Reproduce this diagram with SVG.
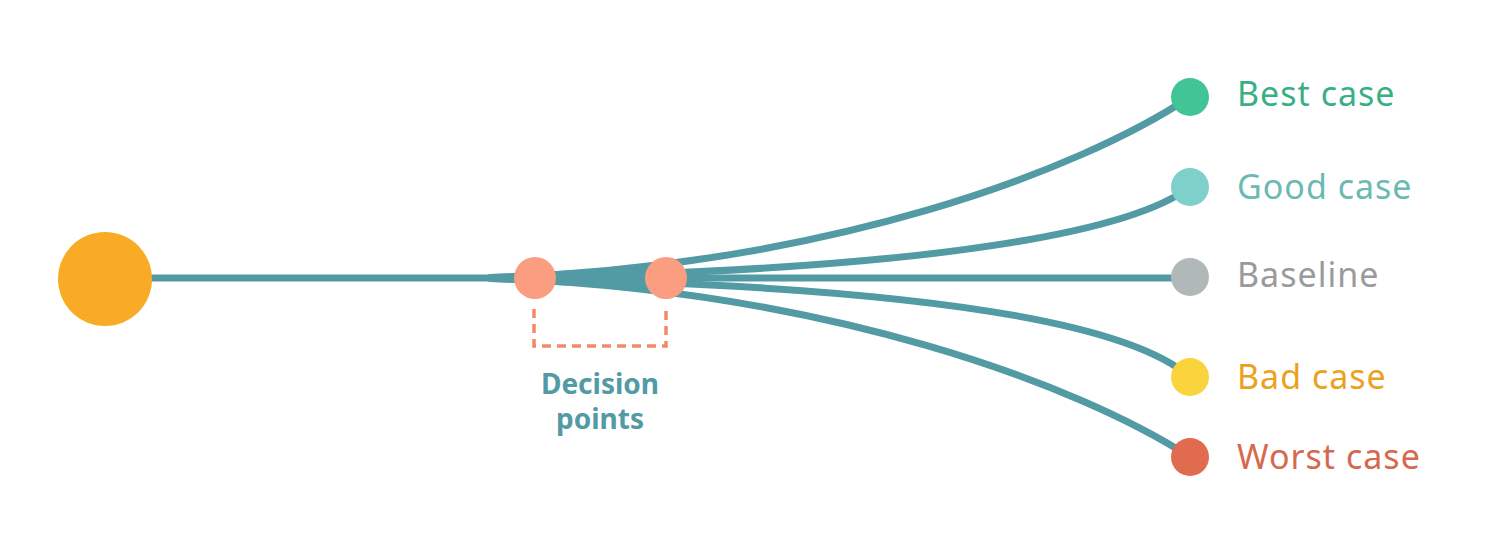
<svg xmlns="http://www.w3.org/2000/svg" width="1492" height="556" viewBox="0 0 1492 556">
<style>
.c{fill:none;stroke:#529aa4;stroke-width:7;stroke-linecap:round}
.l{font-family:"Noto Sans",sans-serif;font-size:34px;letter-spacing:1px}
.d{font-family:"Noto Sans",sans-serif;font-size:28px;font-weight:bold;fill:#529aa4;text-anchor:middle}
</style>
<rect width="1492" height="556" fill="#fff"/>
<g id="connectors">
<path class="c" d="M105,278 H1190"/>
<path class="c" d="M490,278 C830,266 1080,170 1190,97"/>
<path class="c" d="M490,278 C880,272 1120,240 1190,187"/>
<path class="c" d="M490,278 C880,284 1120,316 1190,377"/>
<path class="c" d="M490,278 C830,290 1080,386 1190,457"/>
<path d="M490,274 L666,266 L666,290 L490,282 Z" fill="#529aa4"/>
</g>
<g id="start"><circle cx="105" cy="279" r="47" fill="#f9ab25"/></g>
<g id="decision1"><circle cx="535" cy="278" r="21" fill="#fa9d80"/></g>
<g id="decision2"><circle cx="666" cy="278" r="21" fill="#fa9d80"/></g>
<g id="decision-label">
<path d="M534,309 V346 H666 V309" fill="none" stroke="#f28a66" stroke-width="3.5" stroke-dasharray="9,6"/>
<text class="d" x="600" y="394">Decision</text>
<text class="d" x="600" y="429">points</text>
</g>
<g id="best"><circle cx="1190" cy="97" r="19" fill="#41c597"/><text class="l" x="1237" y="106" fill="#3aaf85">Best case</text></g>
<g id="good"><circle cx="1190" cy="187" r="19" fill="#7fcfcb"/><text class="l" x="1237" y="199" fill="#6bb9b3">Good case</text></g>
<g id="baseline"><circle cx="1190" cy="277" r="19" fill="#b1b9b8"/><text class="l" x="1237" y="287" fill="#9a9a9a">Baseline</text></g>
<g id="bad"><circle cx="1190" cy="377" r="19" fill="#fad43c"/><text class="l" x="1237" y="389" fill="#eca11e">Bad case</text></g>
<g id="worst"><circle cx="1190" cy="457" r="19" fill="#e06b4e"/><text class="l" x="1237" y="469" fill="#d6684d">Worst case</text></g>
</svg>
